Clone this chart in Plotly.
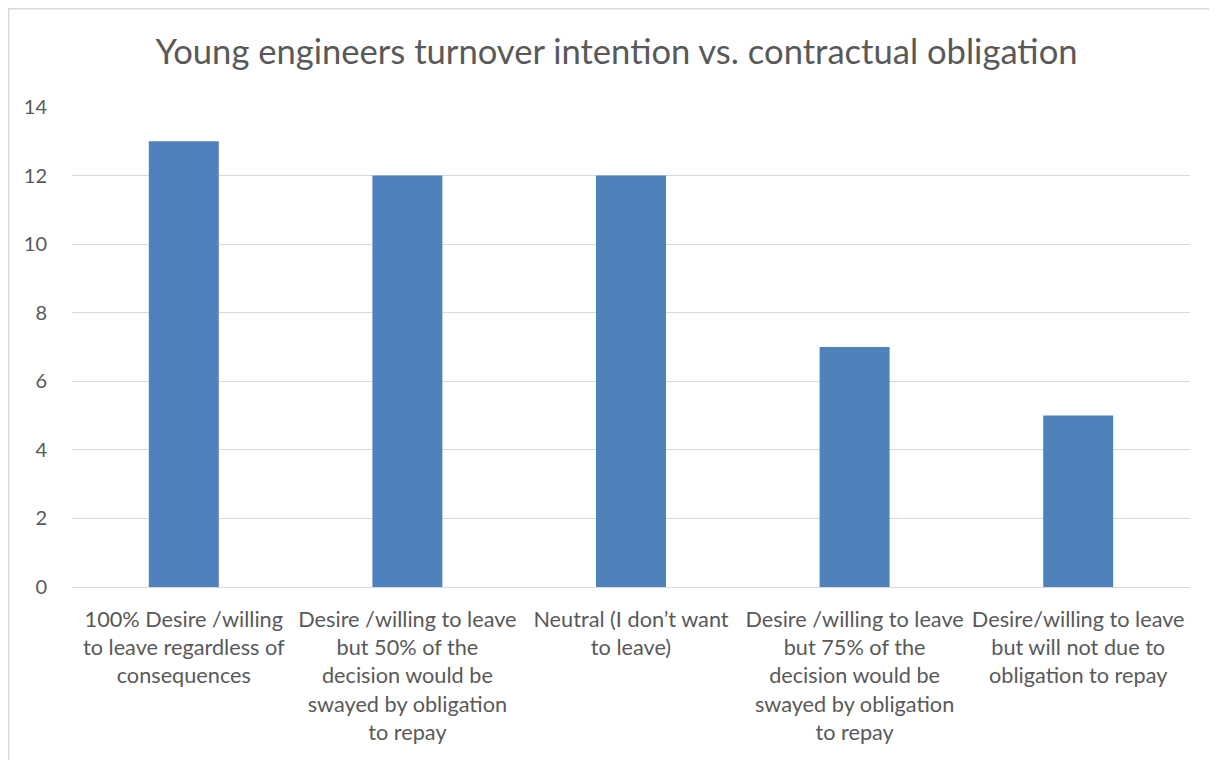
import plotly.graph_objects as go

categories = [
    "100% Desire /willing<br>to leave regardless of<br>consequences",
    "Desire /willing to leave<br>but 50% of the<br>decision would be<br>swayed by obligation<br>to repay",
    "Neutral (I don’t want<br>to leave)",
    "Desire /willing to leave<br>but 75% of the<br>decision would be<br>swayed by obligation<br>to repay",
    "Desire/willing to leave<br>but will not due to<br>obligation to repay",
]
values = [13, 12, 12, 7, 5]
y_ticks = [0, 2, 4, 6, 8, 10, 12, 14]

title_text = "Young engineers turnover intention vs. contractual obligation"

W, H = 1217, 760
L, R, T, B = 64, 35, 99, 181

fig = go.Figure()
fig.add_trace(go.Bar(
    x=categories,
    y=values,
    marker=dict(color="#4F81BD", line=dict(width=0)),
    hoverinfo="x+y",
))

pw = W - L - R
ph = H - T - B

fig.update_layout(
    width=W, height=H,
    margin=dict(l=L, r=R, t=T, b=B, pad=0),
    paper_bgcolor="white",
    plot_bgcolor="white",
    bargap=0.687,
    showlegend=False,
    font=dict(family="Lato, Carlito, sans-serif", color="#595959"),
    title=dict(
        text=title_text,
        font=dict(size=34.6, color="#595959", family="Lato, Carlito, sans-serif"),
        x=0.5, xanchor="center",
        y=1 - 44 / H, yanchor="middle",
    ),
    xaxis=dict(
        showgrid=False,
        showline=False,
        zeroline=False,
        ticks="outside",
        ticklen=13,
        tickcolor="rgba(0,0,0,0)",
        tickfont=dict(size=21.7, color="#595959"),
        tickangle=0,
    ),
    yaxis=dict(
        range=[0, 14],
        tickvals=y_ticks,
        showgrid=True,
        gridcolor="#D9D9D9",
        gridwidth=1.4,
        zeroline=True,
        zerolinecolor="#D9D9D9",
        zerolinewidth=1.4,
        showline=False,
        ticks="outside",
        ticklen=20,
        tickcolor="rgba(0,0,0,0)",
        tickfont=dict(size=20, color="#595959"),
    ),
    shapes=[
        dict(type="line", xref="paper", yref="paper",
             x0=(0 - L) / pw, x1=(W + 5 - L) / pw,
             y0=(H - B - 0.7) / ph, y1=(H - B - 0.7) / ph,
             line=dict(color="#D9D9D9", width=1.4)),
        dict(type="line", xref="paper", yref="paper",
             x0=(0.7 - L) / pw, x1=(0.7 - L) / pw,
             y0=(H - B) / ph, y1=-(B + 5) / ph,
             line=dict(color="#D9D9D9", width=1.4)),
    ],
)

fig.write_html("out.html")
